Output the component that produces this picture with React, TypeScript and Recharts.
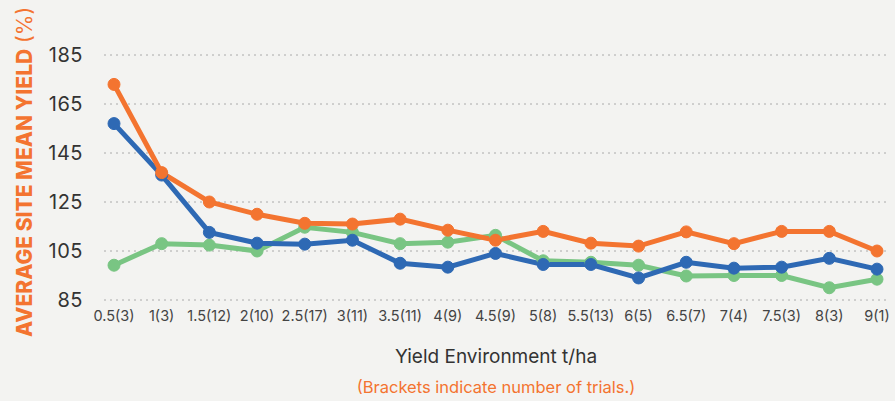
import React from "react";
import { LineChart, Line, XAxis, YAxis, CartesianGrid, Label } from "recharts";

// x categories: yield environment (t/ha) with number of trials in brackets
const categories = [
  "0.5(3)", "1(3)", "1.5(12)", "2(10)", "2.5(17)", "3(11)", "3.5(11)", "4(9)", "4.5(9)",
  "5(8)", "5.5(13)", "6(5)", "6.5(7)", "7(4)", "7.5(3)", "8(3)", "9(1)",
];

const orangeSeries = [173, 137, 125, 120, 116.3, 116, 118, 113.5, 109.4, 113, 108.2, 107, 112.8, 108, 113, 113, 105];
const blueSeries = [157, 136, 112.6, 108.2, 107.8, 109.4, 100, 98.4, 104, 99.5, 99.5, 94, 100.4, 98, 98.4, 102, 97.6];
const greenSeries = [99.2, 108, 107.4, 105, 114.7, 112.6, 108, 108.6, 111.4, 101, 100.4, 99.2, 94.8, 95, 95, 90, 93.5];

const yTicks = [85, 105, 125, 145, 165, 185];

const ORANGE = "#F37430";
const BLUE = "#2E69B4";
const GREEN = "#79C583";
const FONT = "Inter, 'Open Sans', sans-serif";

const data = categories.map((name, i) => ({
  name,
  orange: orangeSeries[i],
  blue: blueSeries[i],
  green: greenSeries[i],
}));

function YLabel() {
  return (
    <text
      x={24}
      y={172}
      transform="rotate(-90 24 172)"
      textAnchor="middle"
      dominantBaseline="central"
      fill={ORANGE}
      fontFamily={FONT}
      fontSize={21}
    >
      <tspan fontWeight={800}>AVERAGE SITE MEAN YIELD</tspan>
      <tspan fontWeight={400}> (%)</tspan>
    </text>
  );
}

function XLabel() {
  return (
    <g fontFamily={FONT}>
      <text x={496} y={356} textAnchor="middle" dominantBaseline="central" fill="#333" fontSize={19}>
        Yield Environment t/ha
      </text>
      <text x={496} y={387} textAnchor="middle" dominantBaseline="central" fill={ORANGE} fontSize={16.5}>
        (Brackets indicate number of trials.)
      </text>
    </g>
  );
}

export default function App() {
  return (
    <div style={{ position: "fixed", left: 0, top: 0, width: 895, height: 401, background: "#F3F3F1" }}>
      <LineChart width={895} height={401} data={data} margin={{ top: 55, right: 5, bottom: 0, left: 0 }}>
        <CartesianGrid vertical={false} stroke="#aaa" strokeDasharray="2 4" />
        <XAxis
          dataKey="name"
          height={101}
          axisLine={false}
          tickLine={false}
          interval={0}
          padding={{ left: 10, right: 13 }}
          tick={{ fill: "#444", fontSize: 14.5, fontFamily: FONT }}
          tickMargin={5}
        >
          <Label content={<XLabel />} />
        </XAxis>
        <YAxis
          width={104}
          domain={[85, 185]}
          ticks={yTicks}
          axisLine={false}
          tickLine={false}
          tickSize={0}
          tickMargin={21}
          tick={{ fill: "#333", fontSize: 20, fontFamily: FONT, letterSpacing: 0.5 }}
        >
          <Label content={<YLabel />} />
        </YAxis>
        <Line dataKey="green" stroke={GREEN} strokeWidth={5} dot={{ r: 6, fill: GREEN, stroke: GREEN, strokeWidth: 1 }} isAnimationActive={false} />
        <Line dataKey="blue" stroke={BLUE} strokeWidth={5} dot={{ r: 6, fill: BLUE, stroke: BLUE, strokeWidth: 1 }} isAnimationActive={false} />
        <Line dataKey="orange" stroke={ORANGE} strokeWidth={5} dot={{ r: 6, fill: ORANGE, stroke: ORANGE, strokeWidth: 1 }} isAnimationActive={false} />
      </LineChart>
    </div>
  );
}
